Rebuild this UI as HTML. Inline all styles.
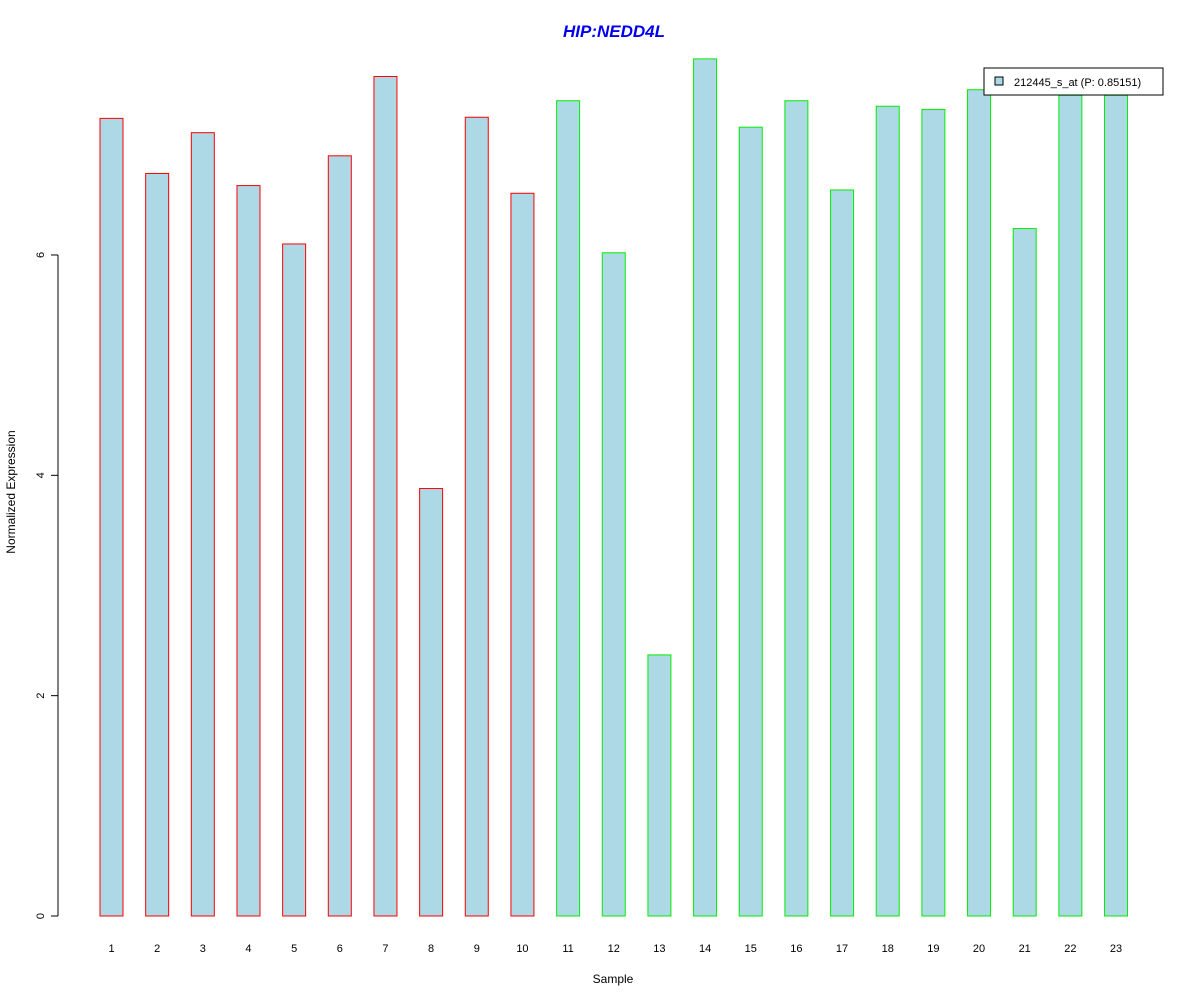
<!DOCTYPE html>
<html><head><meta charset="utf-8"><style>body{margin:0;background:#fff}svg{display:block}text{font-family:"Liberation Sans",Arial,sans-serif}</style></head>
<body>
<svg id="chart" width="1200" height="1000" viewBox="0 0 1200 1000">
<text x="614" y="37" text-anchor="middle" font-size="17" font-weight="bold" font-style="italic" fill="#0000ee">HIP:NEDD4L</text>
<g id="bars"></g>
<g id="axis"></g>
<text x="613" y="983" text-anchor="middle" font-size="12">Sample</text>
<text transform="translate(15,492) rotate(-90)" text-anchor="middle" font-size="12">Normalized Expression</text>
<g>
<rect x="984" y="68" width="179" height="27" fill="#fff" stroke="#000"/>
<rect x="995" y="77" width="8" height="8" fill="#add8e6" stroke="#000"/>
<text x="1014" y="86" font-size="11">212445_s_at (P: 0.85151)</text>
</g>
</svg>
<script>
const categories=["1","2","3","4","5","6","7","8","9","10","11","12","13","14","15","16","17","18","19","20","21","22","23"];
const values=[7.24,6.74,7.11,6.63,6.10,6.90,7.62,3.88,7.25,6.56,7.40,6.02,2.37,7.78,7.16,7.40,6.59,7.35,7.32,7.50,6.24,7.45,7.45];
const groups=["a","a","a","a","a","a","a","a","a","a","b","b","b","b","b","b","b","b","b","b","b","b","b"];
const yTicks=[0,2,4,6];
const NS="http://www.w3.org/2000/svg";
const y=v=>916-v*110.17;
const x=i=>111.5+i*45.66;
const bars=document.getElementById('bars');
const ax=document.getElementById('axis');
function mk(t,a,p){const e=document.createElementNS(NS,t);for(const k in a)e.setAttribute(k,a[k]);p.appendChild(e);return e;}
values.forEach((v,i)=>{
 const r=mk('rect',{x:x(i)-11.5,y:y(v),width:23,height:y(0)-y(v),fill:'#add8e6',stroke:groups[i]==='a'?'#ff0000':'#00ee00','stroke-width':1},bars);
 
 
 const t=mk('text',{x:x(i),y:952,'text-anchor':'middle','font-size':11},ax);
 t.textContent=categories[i];
 
 
});
const yl=mk('line',{x1:58,x2:58,y1:y(6),y2:y(0),stroke:'#000'},ax);


yTicks.forEach(v=>{
 mk('line',{x1:51,x2:58,y1:y(v),y2:y(v),stroke:'#000'},ax);
 const t=mk('text',{transform:`translate(44,${y(v)}) rotate(-90)`,'text-anchor':'middle','font-size':11},ax);
 t.textContent=v;
 
 
});
</script>
</body></html>
